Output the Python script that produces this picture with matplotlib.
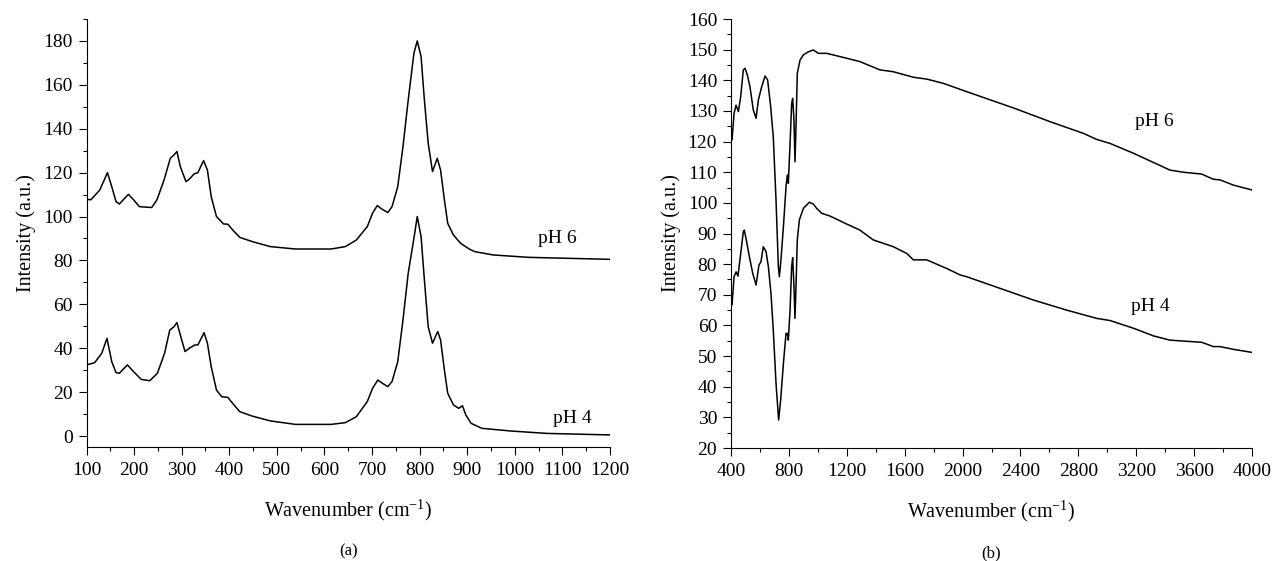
"""Raman (a) and FTIR (b) spectra at pH 4 and pH 6."""

import matplotlib
matplotlib.use("Agg")
import matplotlib.pyplot as plt
from matplotlib.ticker import MultipleLocator

plt.rcParams["font.family"] = ["Liberation Serif", "DejaVu Serif"]
plt.rcParams["mathtext.fontset"] = "custom"
plt.rcParams["mathtext.rm"] = "Liberation Serif"
plt.rcParams["mathtext.it"] = "Liberation Serif:italic"

# (a) Raman, pH 6
raman_ph6_x = [100, 109, 128, 144, 153, 162, 169, 188, 199, 211, 237, 248, 263, 276, 284, 290,
               297, 309, 316, 326, 334, 346, 354, 362, 373, 388, 397, 407, 422, 448, 486, 539,
               614, 644, 667, 690, 701, 711, 720, 733, 742, 754, 765, 776, 788, 795, 803, 810,
               818, 827, 837, 844, 852, 859, 871, 886, 905, 916, 954, 1029, 1200]
raman_ph6_y = [107.9, 107.6, 112.1, 120.0, 113.6, 106.8, 105.7, 110.1, 107.6, 104.5, 104.1, 107.6,
               116.7, 126.5, 128.1, 129.6, 122.8, 115.9, 117.0, 119.4, 120.0, 125.5, 121.2, 109.1,
               100.0, 96.6, 96.5, 93.9, 90.5, 88.6, 86.3, 85.2, 85.2, 86.3, 89.3, 95.4, 101.5,
               105.0, 103.5, 101.8, 104.5, 113.6, 131.9, 153.1, 174.4, 180.0, 172.9, 153.1, 133.4,
               120.5, 126.5, 121.2, 107.6, 96.9, 91.6, 87.8, 85.1, 84.0, 82.5, 81.4, 80.5]

# (a) Raman, pH 4
raman_ph4_x = [100, 117, 132, 143, 153, 162, 169, 186, 199, 215, 233, 249, 264, 275, 284, 290,
               298, 307, 316, 328, 334, 347, 354, 362, 373, 384, 397, 407, 422, 448, 486, 539,
               614, 644, 667, 690, 701, 712, 722, 733, 742, 754, 765, 776, 788, 795, 803, 810,
               818, 827, 838, 844, 852, 859, 871, 882, 890, 897, 908, 931, 991, 1067, 1200]
raman_ph4_y = [32.4, 33.4, 37.7, 44.5, 33.9, 28.9, 28.6, 32.4, 29.3, 25.8, 25.2, 28.6, 37.7, 48.3,
               49.8, 51.7, 45.3, 38.5, 40.0, 41.5, 41.5, 47.1, 42.3, 31.6, 21.0, 17.9, 17.6, 14.9,
               11.1, 9.1, 6.9, 5.3, 5.3, 6.1, 8.8, 15.7, 21.7, 25.5, 24.0, 22.5, 24.8, 33.9, 52.9,
               74.2, 90.1, 100.0, 90.9, 71.1, 49.8, 42.3, 47.6, 43.8, 30.1, 19.5, 14.2, 12.6, 13.8,
               9.6, 5.8, 3.5, 2.3, 1.2, 0.5]

# (b) FTIR, pH 6
ftir_ph6_x = [400, 407, 421, 435, 451, 467, 485, 497, 513, 531, 554, 573, 589, 612, 635, 653, 674,
              692, 711, 727, 734, 745, 762, 780, 789, 796, 808, 819, 826, 835, 842, 849, 858, 877,
              900, 934, 969, 1003, 1061, 1199, 1291, 1429, 1521, 1660, 1752, 1867, 2028, 2362,
              2604, 2834, 2927, 3019, 3180, 3318, 3433, 3525, 3652, 3733, 3779, 3871, 4000]
ftir_ph6_y = [122.7, 120.5, 129.2, 131.9, 129.8, 134.7, 143.4, 143.9, 141.7, 137.9, 130.3, 127.6,
              133.6, 137.9, 141.4, 140.1, 131.4, 121.6, 100.9, 79.2, 75.9, 81.4, 92.2, 105.3, 109.1,
              106.4, 119.4, 132.5, 134.1, 127.0, 113.4, 124.9, 142.3, 146.6, 148.3, 149.3, 149.9,
              148.8, 148.8, 147.2, 146.1, 143.4, 142.8, 141.0, 140.4, 139.0, 136.3, 130.8, 126.5,
              122.7, 120.7, 119.4, 116.2, 113.2, 110.7, 110.0, 109.4, 107.7, 107.5, 105.8, 104.2]

# (b) FTIR, pH 4
ftir_ph4_x = [400, 407, 421, 435, 448, 467, 485, 492, 508, 527, 550, 573, 593, 607, 623, 642, 658,
              676, 692, 711, 729, 743, 762, 780, 789, 796, 808, 819, 826, 835, 842, 849, 858, 872,
              900, 941, 969, 992, 1026, 1084, 1199, 1291, 1383, 1521, 1614, 1660, 1752, 1890, 1982,
              2028, 2259, 2489, 2719, 2927, 3019, 3180, 3318, 3433, 3652, 3733, 3779, 3871, 4000]
ftir_ph4_y = [70.5, 66.7, 75.9, 77.5, 76.1, 83.5, 90.6, 91.1, 87.3, 82.4, 77.0, 73.2, 79.7, 80.8,
              85.7, 84.1, 79.2, 70.5, 58.5, 41.1, 29.1, 35.7, 47.6, 57.4, 57.4, 55.2, 65.0, 79.2,
              82.1, 72.7, 62.3, 72.7, 87.9, 94.4, 98.2, 100.2, 99.6, 98.2, 96.6, 95.7, 93.1, 91.1,
              87.9, 85.7, 83.5, 81.4, 81.4, 78.6, 76.5, 75.9, 72.1, 68.3, 65.0, 62.3, 61.6, 59.1,
              56.6, 55.2, 54.5, 53.1, 53.1, 52.2, 51.2]

FS = 14


def style_axis(ax):
    for side in ("top", "right"):
        ax.spines[side].set_visible(False)
    ax.tick_params(which="both", direction="out", width=0.8, labelsize=FS)
    ax.tick_params(which="major", length=6)
    ax.tick_params(which="minor", length=3)
    ax.tick_params(axis="x", which="both", pad=5)
    ax.tick_params(axis="y", which="both", pad=4)
    ax.set_xlabel("Wavenumber (cm$^{-1}$)", fontsize=14.5, labelpad=13)
    ax.set_ylabel("Intensity (a.u.)", fontsize=14.5, labelpad=5)


fig = plt.figure(figsize=(12.78, 5.61), dpi=100)
ax1 = fig.add_axes([0.0677, 0.2032, 0.4096, 0.763])
ax2 = fig.add_axes([0.572, 0.2014, 0.4077, 0.7647])

# (a)
ax1.plot(raman_ph6_x, raman_ph6_y, color="black", lw=1.1)
ax1.plot(raman_ph4_x, raman_ph4_y, color="black", lw=1.1)
ax1.set_xlim(100, 1200)
ax1.set_ylim(-5, 190)
ax1.xaxis.set_major_locator(MultipleLocator(100))
ax1.xaxis.set_minor_locator(MultipleLocator(50))
ax1.yaxis.set_major_locator(MultipleLocator(20))
ax1.yaxis.set_minor_locator(MultipleLocator(10))
style_axis(ax1)
ax1.text(1090, 90, "pH 6", fontsize=FS, ha="center", va="center")
ax1.text(1120, 8, "pH 4", fontsize=FS, ha="center", va="center")
ax1.text(0.5, -0.245, "(a)", transform=ax1.transAxes, fontsize=12, ha="center", va="center")

# (b)
ax2.plot(ftir_ph6_x, ftir_ph6_y, color="black", lw=1.1)
ax2.plot(ftir_ph4_x, ftir_ph4_y, color="black", lw=1.1)
ax2.set_xlim(400, 4000)
ax2.set_ylim(20, 160)
ax2.xaxis.set_major_locator(MultipleLocator(400))
ax2.xaxis.set_minor_locator(MultipleLocator(200))
ax2.yaxis.set_major_locator(MultipleLocator(10))
ax2.yaxis.set_minor_locator(MultipleLocator(5))
style_axis(ax2)
ax2.text(3323, 126.4, "pH 6", fontsize=FS, ha="center", va="center")
ax2.text(3295, 66.3, "pH 4", fontsize=FS, ha="center", va="center")
ax2.text(0.5, -0.245, "(b)", transform=ax2.transAxes, fontsize=12, ha="center", va="center")

fig.savefig("out.png", dpi=100)
